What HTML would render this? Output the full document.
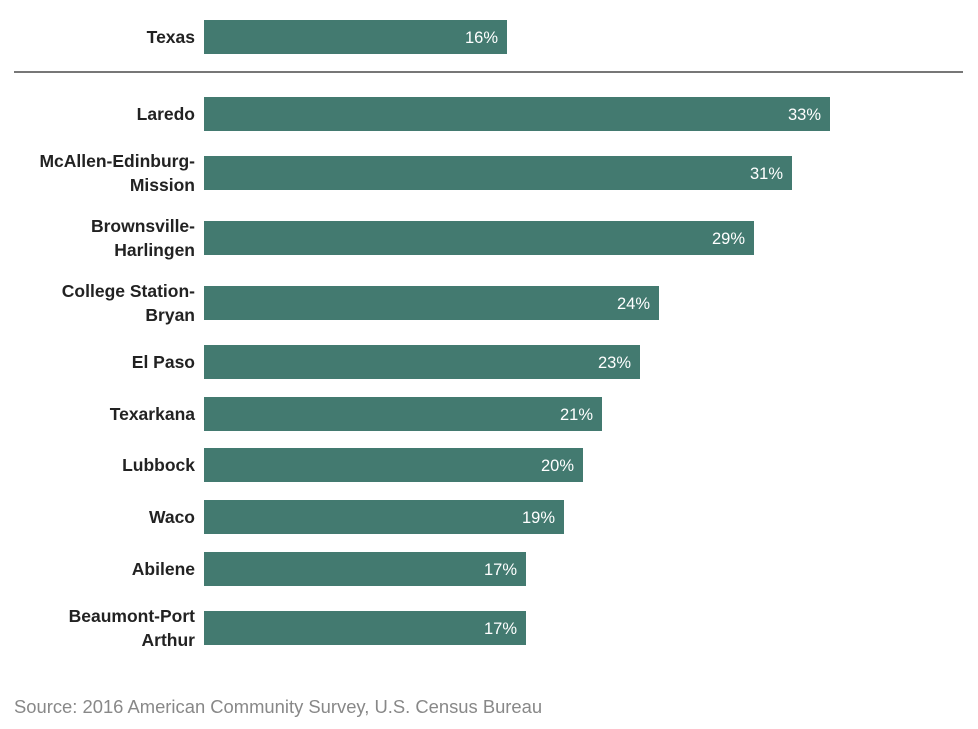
<!DOCTYPE html>
<html><head><meta charset="utf-8"><style>
html,body{margin:0;padding:0;background:#fff;}
svg{display:block;}
.l{font-family:"Liberation Sans",Arial,sans-serif;font-weight:bold;font-size:17.5px;fill:#222;}
.v{font-family:"Liberation Sans",Arial,sans-serif;font-size:16.5px;fill:#fff;}
.s{font-family:"Liberation Sans",Arial,sans-serif;font-size:18.4px;fill:#888;}
</style></head><body>
<svg width="978" height="729" viewBox="0 0 978 729" xmlns="http://www.w3.org/2000/svg">
<g fill="#437a70">
<rect x="204" y="20" width="303" height="34"/>
<rect x="204" y="97" width="626" height="34"/>
<rect x="204" y="156" width="588" height="34"/>
<rect x="204" y="221" width="550" height="34"/>
<rect x="204" y="286" width="455" height="34"/>
<rect x="204" y="345" width="436" height="34"/>
<rect x="204" y="397" width="398" height="34"/>
<rect x="204" y="448" width="379" height="34"/>
<rect x="204" y="500" width="360" height="34"/>
<rect x="204" y="552" width="322" height="34"/>
<rect x="204" y="611" width="322" height="34"/>
</g>
<rect x="14" y="71" width="949" height="2" fill="#777"/>
<g class="l" text-anchor="end">
<text x="195" y="43">Texas</text>
<text x="195" y="120">Laredo</text>
<text x="195" y="167">McAllen-Edinburg-</text>
<text x="195" y="191">Mission</text>
<text x="195" y="232">Brownsville-</text>
<text x="195" y="256">Harlingen</text>
<text x="195" y="297">College Station-</text>
<text x="195" y="321">Bryan</text>
<text x="195" y="368">El Paso</text>
<text x="195" y="420">Texarkana</text>
<text x="195" y="471">Lubbock</text>
<text x="195" y="523">Waco</text>
<text x="195" y="575">Abilene</text>
<text x="195" y="622">Beaumont-Port</text>
<text x="195" y="646">Arthur</text>
</g>
<g class="v" text-anchor="end">
<text x="498" y="43">16%</text>
<text x="821" y="120">33%</text>
<text x="783" y="179">31%</text>
<text x="745" y="244">29%</text>
<text x="650" y="309">24%</text>
<text x="631" y="368">23%</text>
<text x="593" y="420">21%</text>
<text x="574" y="471">20%</text>
<text x="555" y="523">19%</text>
<text x="517" y="575">17%</text>
<text x="517" y="634">17%</text>
</g>
<text class="s" x="14" y="713">Source: 2016 American Community Survey, U.S. Census Bureau</text>
</svg>
</body></html>
